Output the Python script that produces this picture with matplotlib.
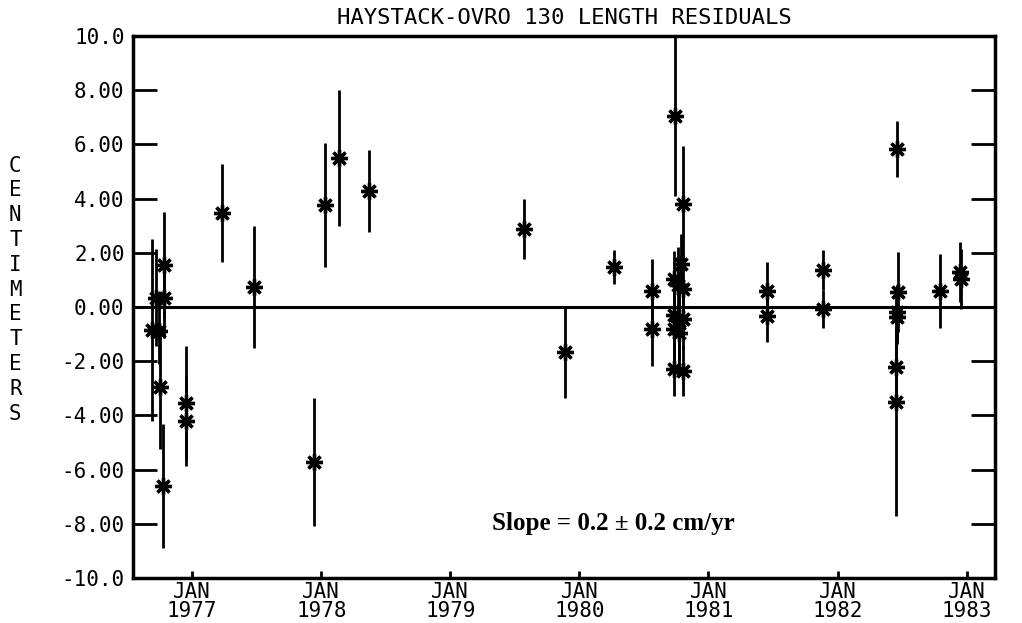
import matplotlib
matplotlib.use("Agg")
from matplotlib import pyplot as plt

# decimal year, residual (cm), formal error (cm)
years = [1976.69, 1976.72, 1976.78, 1976.78, 1976.74, 1976.75, 1976.77, 1976.95, 1976.95,
         1977.23, 1977.48, 1977.94, 1978.03, 1978.14, 1978.37,
         1979.57, 1979.89, 1980.27, 1980.56, 1980.56,
         1980.74, 1980.80, 1980.73, 1980.79, 1980.80, 1980.76, 1980.73, 1980.77, 1980.80,
         1980.73, 1980.77, 1980.73, 1980.80,
         1981.45, 1981.45, 1981.89, 1981.89,
         1982.46, 1982.47, 1982.46, 1982.46, 1982.45, 1982.45,
         1982.79, 1982.95, 1982.96]
resid = [-0.85, 0.35, 0.35, 1.55, -0.9, -2.95, -6.6, -3.55, -4.2,
         3.47, 0.74, -5.72, 3.76, 5.5, 4.28,
         2.88, -1.66, 1.48, 0.59, -0.81,
         7.05, 3.8, 1.05, 1.6, 0.65, 0.8, -0.3, -0.5, -0.45,
         -0.8, -0.95, -2.3, -2.35,
         0.59, -0.33, 1.37, -0.07,
         5.83, 0.55, -0.2, -0.37, -2.2, -3.5,
         0.59, 1.29, 1.03]
sigma = [3.35, 1.8, 1.5, 1.95, 1.2, 2.3, 2.3, 2.1, 1.65,
         1.82, 2.25, 2.35, 2.3, 2.5, 1.5,
         1.1, 1.7, 0.63, 1.2, 1.35,
         2.95, 2.14, 1.0, 1.1, 1.3, 1.4, 1.2, 1.5, 1.1,
         1.5, 1.3, 1.0, 0.95,
         1.07, 0.95, 0.73, 0.7,
         1.02, 1.48, 1.0, 1.0, 1.5, 4.2,
         1.35, 1.1, 1.1]

tick_years = [1977, 1978, 1979, 1980, 1981, 1982, 1983]
xtick_labels = ["JAN\n%d" % y for y in tick_years]
yticks = [-10, -8, -6, -4, -2, 0, 2, 4, 6, 8, 10]
ytick_labels = ["-10.0", "-8.00", "-6.00", "-4.00", "-2.00", "0.00",
                "2.00", "4.00", "6.00", "8.00", "10.0"]

mono = "DejaVu Sans Mono"

fig = plt.figure(figsize=(10.22, 6.23), dpi=100)
ax = fig.add_axes([0.130, 0.0722, 0.8436, 0.870])

ax.axhline(0, color="black", lw=2.2, zorder=1)
ax.errorbar(years, resid, yerr=sigma, fmt="none", ecolor="black", elinewidth=2, capsize=0, zorder=2)
ax.plot(years, resid, ls="none", marker=(8, 2, 0), ms=12, mew=2.4, color="black", zorder=3)

ax.set_xlim(1976.54, 1983.22)
ax.set_ylim(-10, 10)

ax.set_xticks(tick_years)
ax.set_xticklabels(xtick_labels, fontfamily=mono, fontsize=15, linespacing=0.95)
ax.set_yticks(yticks)
ax.set_yticklabels(ytick_labels, fontfamily=mono, fontsize=15)
ax.tick_params(axis="y", direction="in", length=17, width=2, left=True, right=True, pad=6)
ax.tick_params(axis="x", direction="in", length=5, width=2, pad=3)

for s in ax.spines.values():
    s.set_linewidth(2.5)

ax.set_title("HAYSTACK-OVRO 130 LENGTH RESIDUALS", fontfamily=mono, fontsize=16, pad=9)

fig.text(0.015, 0.535, "\n".join("CENTIMETERS"), fontfamily=mono, fontsize=15,
         ha="center", va="center", linespacing=1.3)

ax.text(1980.26, -8.0, "Slope = 0.2 \u00b1 0.2 cm/yr", fontfamily="Liberation Serif",
        fontweight="bold", fontsize=18, ha="center", va="center")

fig.savefig("out.png", dpi=100)
